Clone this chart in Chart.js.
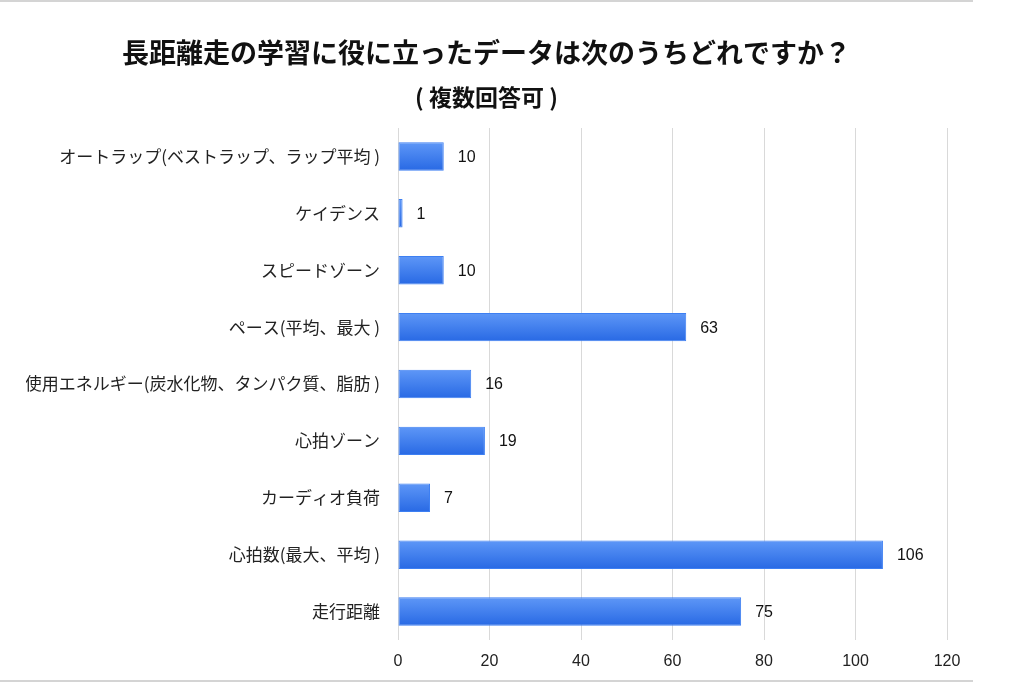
<!DOCTYPE html>
<html><head><meta charset="utf-8">
<script src="https://cdn.jsdelivr.net/npm/chart.js@4/dist/chart.umd.min.js"></script>
<style>
html,body{margin:0;padding:0;background:#fff;}
#wrap{position:relative;width:1024px;height:683px;}
#topline{position:absolute;left:0;top:0;width:973px;height:2px;background:#d4d4d4;}
#botline{position:absolute;left:0;top:680px;width:973px;height:2px;background:#d4d4d4;}
canvas{position:absolute;left:0;top:0;}
</style></head>
<body><div id="wrap"><canvas id="c" width="1024" height="683"></canvas><div id="topline"></div><div id="botline"></div></div>
<script>
const titleText = '長距離走の学習に役に立ったデータは次のうちどれですか？';
const subtitleText = '( 複数回答可 )';
const categories = [
  'オートラップ(ベストラップ、ラップ平均 )',
  'ケイデンス',
  'スピードゾーン',
  'ペース(平均、最大 )',
  '使用エネルギー(炭水化物、タンパク質、脂肪 )',
  '心拍ゾーン',
  'カーディオ負荷',
  '心拍数(最大、平均 )',
  '走行距離'
];
const counts = [10, 1, 10, 63, 16, 19, 7, 106, 75];
const xTicks = [0, 20, 40, 60, 80, 100, 120];

function barFill(ctx) {
  const chart = ctx.chart;
  const ys = chart.scales && chart.scales.y;
  const area = chart.chartArea;
  if (!ys || !area || ctx.dataIndex === undefined) return '#3f80f0';
  const cy = ys.getPixelForValue(ctx.dataIndex);
  const h = (area.bottom - area.top) / categories.length * 0.5;
  if (!isFinite(cy) || !isFinite(h)) return '#3f80f0';
  const g = chart.ctx.createLinearGradient(0, cy - h / 2, 0, cy + h / 2);
  g.addColorStop(0, '#5e97f7');
  g.addColorStop(1, '#2869e4');
  return g;
}

const valueLabels = {
  id: 'valueLabels',
  afterDatasetsDraw(chart) {
    const ctx = chart.ctx;
    const meta = chart.getDatasetMeta(0);
    ctx.save();
    ctx.font = '16px "Liberation Sans", Arial, sans-serif';
    ctx.fillStyle = '#111';
    ctx.textBaseline = 'middle';
    ctx.textAlign = 'left';
    meta.data.forEach((el, i) => {
      ctx.fillText(String(chart.data.datasets[0].data[i]), el.x + 14, el.y + 1);
    });
    ctx.restore();
  }
};

new Chart(document.getElementById('c'), {
  type: 'bar',
  data: {
    labels: categories,
    datasets: [{
      data: counts,
      backgroundColor: barFill,
      borderColor: '#3d7ff2',
      borderWidth: 1,
      borderSkipped: false,
      categoryPercentage: 1,
      barPercentage: 0.5
    }]
  },
  options: {
    indexAxis: 'y',
    responsive: false,
    animation: false,
    devicePixelRatio: 1,
    layout: { padding: { left: 26, right: 77, top: 0, bottom: 0 } },
    plugins: {
      legend: { display: false },
      tooltip: { enabled: false },
      title: {
        display: true,
        text: titleText,
        color: '#111',
        font: { family: '"Noto Sans CJK JP", sans-serif', size: 27, weight: 'bold' },
        padding: { top: 37, bottom: 14 }
      },
      subtitle: {
        display: true,
        text: subtitleText,
        color: '#111',
        font: { family: '"Noto Sans CJK JP", sans-serif', size: 23, weight: 'bold' },
        padding: { top: 0, bottom: 17 }
      }
    },
    scales: {
      x: {
        min: 0, max: 120,
        afterBuildTicks(scale) { scale.ticks = xTicks.map(v => ({ value: v })); },
        afterFit(scale) { scale.height = 43; },
        grid: { color: '#d9d9d9', lineWidth: 1, drawTicks: false },
        border: { display: false },
        ticks: { color: '#222', padding: 12, font: { family: '"Liberation Sans", Arial, sans-serif', size: 16 } }
      },
      y: {
        afterFit(scale) { scale.width = 372; },
        grid: { display: false },
        border: { display: false },
        ticks: { color: '#222', padding: 10, font: { family: '"Noto Sans CJK JP", sans-serif', size: 17 } }
      }
    }
  },
  plugins: [valueLabels]
});
</script>
</body></html>
